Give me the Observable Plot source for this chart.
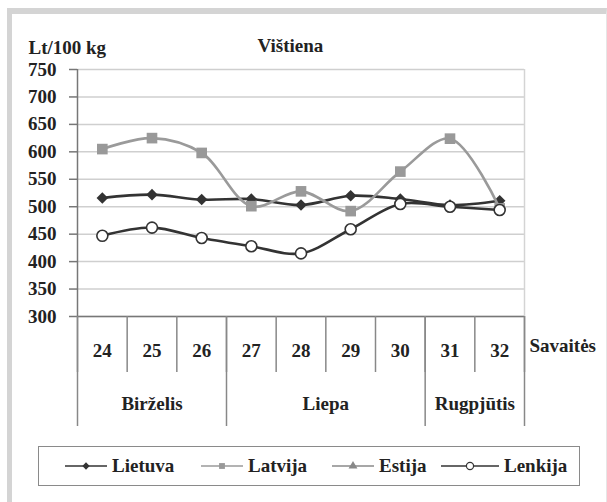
<!DOCTYPE html>
<html>
<head>
<meta charset="utf-8">
<script src="https://cdn.jsdelivr.net/npm/d3@7"></script>
<script src="https://cdn.jsdelivr.net/npm/@observablehq/plot@0.6"></script>
<style>
  html, body { margin: 0; padding: 0; background: #fff; }
  #wrap { position: relative; width: 607px; height: 502px; overflow: hidden; font-family: "Liberation Serif", "Times New Roman", Times, Tinos, "DejaVu Serif", "Noto Serif", serif; color: #222; }
  #frame { position: absolute; left: 7px; top: 8px; width: 600px; height: 494px; box-sizing: border-box;
           border-left: 5px solid #d4d4d4; border-top: 6px solid #d4d4d4; border-right: 1px solid #e6e6e6; }
  #chart { position: absolute; left: 0; top: 0; }
  #chart svg, #chart svg text { font-family: "Liberation Serif", "Times New Roman", Times, Tinos, "DejaVu Serif", "Noto Serif", serif !important; }
  #legend { position: absolute; left: 38px; top: 446px; width: 542px; height: 40px; box-sizing: border-box;
            border: 1.5px solid #8a8a8a; }
  .item { position: absolute; top: 0; height: 37px; display: flex; align-items: center; font-weight: bold; font-size: 19px; }
  .item svg { margin-right: 5px; }
</style>
</head>
<body>
<div id="wrap">
  <div id="frame"></div>
  <div id="chart"></div>
  <div id="legend"></div>
</div>
<script>
// ---- data ----
const weeks = ["24", "25", "26", "27", "28", "29", "30", "31", "32"];
const months = ["Birželis", "Liepa", "Rugpjūtis"];
const monthWeekCounts = [3, 4, 2];
const lietuva = [516, 522, 513, 514, 503, 520, 514, 503, 511];
const latvija = [605, 625, 598, 501, 528, 492, 564, 624, 497];
const estija = [];
const lenkija = [447, 462, 443, 428, 415, 459, 505, 500, 494];
const yTicks = [300, 350, 400, 450, 500, 550, 600, 650, 700, 750];
const seriesNames = ["Lietuva", "Latvija", "Estija", "Lenkija"];
const unitLabel = "Lt/100 kg";
const chartTitle = "Vištiena";
const xTitle = "Savaitės";

// ---- derived tables ----
const toRows = (vals) => vals.map((v, i) => ({i, v}));
const seriesData = [lietuva, latvija, estija, lenkija].map(toRows);
const xDomain = [-0.5, weeks.length - 0.5];
const weekIdx = weeks.map((_, i) => i);
const weekBounds = d3.range(weeks.length + 1).map(i => i - 0.5);
const cum = [0, ...d3.cumsum(monthWeekCounts)];
const monthBounds = cum.map(c => c - 0.5);
const monthCenters = monthWeekCounts.map((n, k) => cum[k] + (n - 1) / 2);
const monthByCenter = new Map(monthCenters.map((c, k) => [c, months[k]]));

const styles = {
  Lietuva: {stroke: "#333", symbol: "diamond2", fill: "#333", r: 5.2, sw: 0},
  Latvija: {stroke: "#9a9a9a", symbol: "square", fill: "#999", r: 6, sw: 0},
  Estija:  {stroke: "#8a8a8a", symbol: "triangle", fill: "#888", r: 5, sw: 0},
  Lenkija: {stroke: "#333", symbol: "circle", fill: "#fff", r: 5.5, sw: 1.6}
};

const serif = '"Liberation Serif", "Times New Roman", Times, Tinos, "DejaVu Serif", "Noto Serif", serif';
const font = {fontSize: 19, fontWeight: "bold", fontFamily: serif};
const marks = [
  Plot.gridY(yTicks, {stroke: "#cfcfcf", strokeOpacity: 1, strokeWidth: 1.5}),
  Plot.ruleX([xDomain[1]], {stroke: "#d4d4d4", strokeWidth: 1.5}),
  Plot.axisY(yTicks, {tickSize: 8, tickPadding: 13, stroke: "#777", strokeWidth: 1.5, label: null, ...font}),
  Plot.ruleX([xDomain[0]], {stroke: "#777", strokeWidth: 1.5}),
  Plot.ruleY([yTicks[0]], {stroke: "#777", strokeWidth: 1.5}),
  Plot.axisX(weekBounds, {tickSize: 56, tickFormat: () => "", stroke: "#888", strokeWidth: 1.5, label: null}),
  Plot.axisX(monthBounds, {tickSize: 110, tickFormat: () => "", stroke: "#888", strokeWidth: 1.5, label: null}),
  Plot.axisX(weekIdx, {tickSize: 0, tickPadding: 27, tickFormat: i => weeks[i], label: null, ...font}),
  Plot.axisX(monthCenters, {tickSize: 0, tickPadding: 80, tickFormat: c => monthByCenter.get(c), label: null, ...font}),
  Plot.text([xTitle], {frameAnchor: "bottom-right", dx: 5, dy: 35, textAnchor: "start", ...font}),
  Plot.text([unitLabel], {frameAnchor: "top-left", dx: -49, dy: -29, textAnchor: "start", ...font}),
  Plot.text([chartTitle], {frameAnchor: "top-left", dx: 180, dy: -31, textAnchor: "start", ...font})
];

seriesNames.forEach((name, k) => {
  const s = styles[name];
  const data = seriesData[k];
  if (!data.length) return;
  marks.push(Plot.line(data, {x: "i", y: "v", stroke: s.stroke, strokeWidth: 2.6, curve: "catmull-rom"}));
  marks.push(Plot.dot(data, {x: "i", y: "v", symbol: () => s.symbol, r: s.r, fill: s.fill,
    stroke: s.sw ? s.stroke : "none", strokeWidth: s.sw}));
});

const chart = Plot.plot({
  width: 607,
  height: 440,
  marginLeft: 77,
  marginRight: 83,
  marginTop: 69,
  marginBottom: 124,
  style: {fontFamily: serif, color: "#222", background: "transparent", overflow: "visible"},
  x: {type: "linear", domain: xDomain},
  y: {domain: [yTicks[0], yTicks[yTicks.length - 1]]},
  symbol: {type: "identity"},
  marks
});
document.getElementById("chart").appendChild(chart);

// ---- legend ----
const legendLeft = [26, 162, 293, 402];
const legend = document.getElementById("legend");
seriesNames.forEach((name, k) => {
  const s = styles[name];
  const item = document.createElement("div");
  item.className = "item";
  item.style.left = legendLeft[k] + "px";
  const w = name === "Lenkija" ? 58 : 42;
  const sym = d3.symbol(
    {diamond2: d3.symbolDiamond2, square: d3.symbolSquare, triangle: d3.symbolTriangle, circle: d3.symbolCircle}[s.symbol],
    s.symbol === "circle" ? 40 : 34)();
  item.innerHTML = `<svg width="${w}" height="14"><line x1="0" x2="${w}" y1="7" y2="7" stroke="${s.stroke}" stroke-width="1.6"/>` +
    `<path d="${sym}" transform="translate(${w / 2},7)" fill="${s.fill}" stroke="${s.sw ? s.stroke : "none"}" stroke-width="1.2"/></svg>` +
    `<span>${name}</span>`;
  legend.appendChild(item);
});
</script>
</body>
</html>
